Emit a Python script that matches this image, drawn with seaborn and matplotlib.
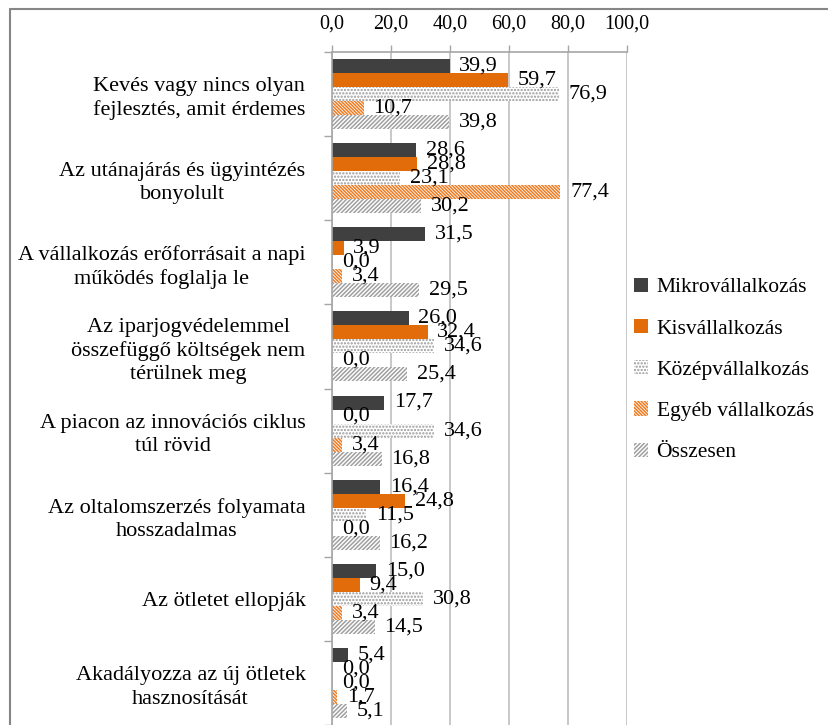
import matplotlib
matplotlib.use("Agg")
import matplotlib.pyplot as plt
import seaborn as sns
import pandas as pd
import numpy as np
from matplotlib.patches import Patch
from matplotlib.lines import Line2D
from matplotlib.ticker import FuncFormatter

categories = [
    "Kevés vagy nincs olyan\nfejlesztés, amit érdemes",
    "Az utánajárás és ügyintézés\nbonyolult",
    "A vállalkozás erőforrásait a napi\nműködés foglalja le",
    "Az iparjogvédelemmel\nösszefüggő költségek nem\ntérülnek meg",
    "A piacon az innovációs ciklus\ntúl rövid",
    "Az oltalomszerzés folyamata\nhosszadalmas",
    "Az ötletet ellopják",
    "Akadályozza az új ötletek\nhasznosítását",
]
series = ["Mikrovállalkozás", "Kisvállalkozás", "Középvállalkozás",
          "Egyéb vállalkozás", "Összesen"]
mikro = [39.9, 28.6, 31.5, 26.0, 17.7, 16.4, 15.0, 5.4]
kis = [59.7, 28.8, 3.9, 32.4, 0.0, 24.8, 9.4, 0.0]
kozep = [76.9, 23.1, 0.0, 34.6, 34.6, 11.5, 30.8, 0.0]
egyeb = [10.7, 77.4, 3.4, 0.0, 3.4, 0.0, 3.4, 1.7]
osszesen = [39.8, 30.2, 29.5, 25.4, 16.8, 16.2, 14.5, 5.1]
values = [mikro, kis, kozep, egyeb, osszesen]
xticks = [0, 20, 40, 60, 80, 100]

rows = []
for s, vals in zip(series, values):
    for c, v in zip(categories, vals):
        rows.append({"cat": c, "series": s, "val": v})
df = pd.DataFrame(rows)

sns.set_theme(style="white")
plt.rcParams['font.family'] = ['Liberation Serif', 'DejaVu Serif']
plt.rcParams['hatch.linewidth'] = 1.1
plt.rcParams['text.color'] = 'black'

W, H = 829, 725
fig = plt.figure(figsize=(W / 100, H / 100), dpi=100)
ax = fig.add_axes([332 / W, 0, (627 - 332) / W, 1 - 52 / H])

styles = [
    dict(fc="#404040", ec="#404040", hatch=None),
    dict(fc="#E36C0A", ec="#E36C0A", hatch=None),
    dict(fc="white", ec="#999999", hatch="....."),
    dict(fc="white", ec="#F07A20", hatch="\\\\\\\\\\\\\\\\\\\\"),
    dict(fc="white", ec="#A0A0A0", hatch="////////"),
]

sns.barplot(data=df, x="val", y="cat", hue="series", orient="h",
            width=5 / 6, ax=ax, legend=False, saturation=1)

for cont, st, vals in zip(ax.containers, styles, values):
    for bar, v in zip(cont, vals):
        bar.set_facecolor(st["fc"])
        bar.set_edgecolor(st["ec"])
        bar.set_linewidth(0)
        if st["hatch"]:
            bar.set_hatch(st["hatch"])
        y = bar.get_y() + bar.get_height() / 2
        ax.annotate(f"{v:.1f}".replace(".", ","), (v, y),
                    xytext=(7, 0), textcoords="offset points",
                    va="center", ha="left", fontsize=16, color="black")

ax.set_xlim(0, 100)
ax.set_ylim(len(categories) - 0.5, -0.5)
ax.set_xlabel("")
ax.set_ylabel("")

ax.xaxis.tick_top()
ax.set_xticks(xticks)
ax.xaxis.set_major_formatter(FuncFormatter(lambda x, p: f"{x:.1f}".replace(".", ",")))
ax.tick_params(axis="x", direction="out", length=5, width=1, color="#A6A6A6",
               pad=8, labelsize=14.5, labelcolor="black", top=True, bottom=False)
ax.grid(axis="x", color="#BFBFBF", linewidth=1.2)
ax.set_axisbelow(True)

ax.set_yticks(range(len(categories)))
ax.set_yticklabels(categories, fontsize=16, multialignment="center",
                   linespacing=1.3, color="black")
ax.set_yticks(np.arange(-0.5, len(categories), 1), minor=True)
ax.tick_params(axis="y", which="major", length=0, pad=19, labelcolor="black")
ax.tick_params(axis="y", which="minor", length=6, width=1, color="#A6A6A6",
               direction="out", left=True)

for side in ["right", "bottom"]:
    ax.spines[side].set_visible(False)
for side in ["top", "left"]:
    ax.spines[side].set_color("#A6A6A6")
    ax.spines[side].set_linewidth(1.2)

handles = [Patch(facecolor=st["fc"], edgecolor=st["ec"], hatch=st["hatch"],
                 linewidth=0) for st in styles]
leg = fig.legend(handles, series, loc="center left",
                 bbox_to_anchor=(634 / W, 1 - 370 / H), frameon=False,
                 fontsize=15.5, handlelength=0.65, handleheight=0.65,
                 labelspacing=1.0, handletextpad=0.4, borderpad=0, borderaxespad=0)
for t in leg.get_texts():
    t.set_color("black")

fig.add_artist(Line2D([10 / W, 1], [1 - 9 / H, 1 - 9 / H], color="#868686",
                      lw=1.5, transform=fig.transFigure))
fig.add_artist(Line2D([10 / W, 10 / W], [0, 1 - 9 / H], color="#868686",
                      lw=1.5, transform=fig.transFigure))

fig.savefig("out.png", dpi=100)
